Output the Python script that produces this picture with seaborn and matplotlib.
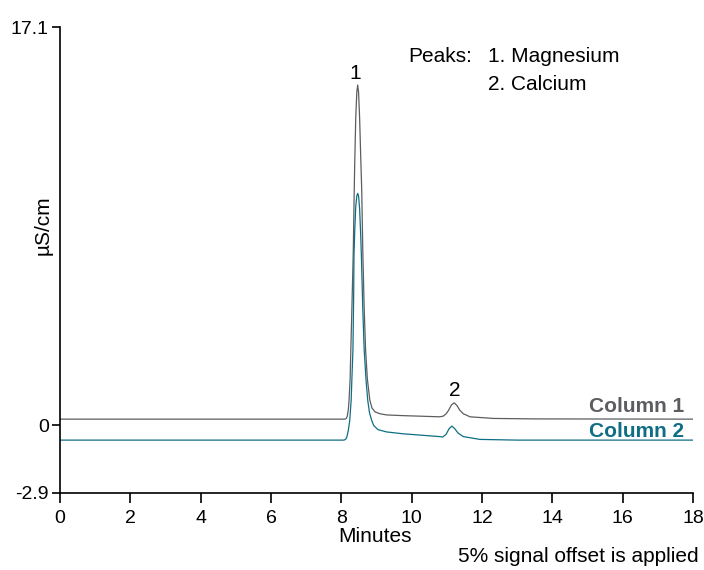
import pandas as pd
import numpy as np
import matplotlib
matplotlib.use('Agg')
import matplotlib.pyplot as plt
import seaborn as sns

# ── Data ──────────────────────────────────────────────────────────────────────
col1_time = [0.0, 8.10, 8.14, 8.17, 8.20, 8.22, 8.25, 8.27, 8.30, 8.34, 8.36,
             8.38, 8.41, 8.44, 8.465, 8.49, 8.52, 8.55, 8.58, 8.61, 8.65, 8.69,
             8.74, 8.81, 8.87, 8.96, 9.10, 9.29, 9.76, 10.80, 10.90, 10.98,
             11.05, 11.13, 11.21, 11.29, 11.37, 11.47, 11.66, 12.32, 13.5, 18.0]
col1_signal = [0.27, 0.27, 0.30, 0.40, 0.70, 1.09, 2.0, 3.24, 5.0, 7.5, 9.5,
               11.2, 13.2, 14.3, 14.61, 14.3, 13.2, 11.6, 10.1, 7.5, 5.0, 3.24,
               2.0, 1.09, 0.75, 0.58, 0.50, 0.45, 0.42, 0.37, 0.40, 0.50,
               0.65, 0.88, 0.97, 0.85, 0.65, 0.50, 0.37, 0.30, 0.28, 0.27]

col2_time = [0.0, 8.08, 8.13, 8.16, 8.20, 8.24, 8.28, 8.30, 8.33, 8.35, 8.36,
             8.38, 8.41, 8.44, 8.465, 8.49, 8.52, 8.55, 8.57, 8.61, 8.65, 8.70,
             8.75, 8.80, 8.86, 8.92, 9.04, 9.29, 9.76, 10.80, 10.88, 10.98,
             11.06, 11.14, 11.22, 11.32, 11.47, 11.94, 13.0, 18.0]
col2_signal = [-0.63, -0.63, -0.58, -0.48, -0.20, 0.23, 1.09, 2.0, 3.24, 5.5, 7.3,
               8.3, 9.4, 9.85, 9.96, 9.85, 9.3, 8.2, 7.3, 5.0, 3.24, 2.0,
               1.09, 0.55, 0.23, 0.0, -0.18, -0.28, -0.36, -0.48, -0.50, -0.38,
               -0.15, -0.03, -0.13, -0.33, -0.48, -0.60, -0.63, -0.63]

x_ticks = [0, 2, 4, 6, 8, 10, 12, 14, 16, 18]
y_ticks = [-2.9, 0, 17.1]
y_tick_labels = ['-2.9', '0', '17.1']

col1_color = '#5b5d60'
col2_color = '#0f6e84'
FS = 15      # annotation text
TFS = 14     # tick labels

df = pd.concat([
    pd.DataFrame({'Minutes': col1_time, 'signal': col1_signal, 'series': 'Column 1'}),
    pd.DataFrame({'Minutes': col2_time, 'signal': col2_signal, 'series': 'Column 2'}),
])

sns.set_style('ticks')
plt.rcParams['font.family'] = ['Liberation Sans', 'DejaVu Sans']
plt.rcParams['text.color'] = 'black'
plt.rcParams['xtick.color'] = 'black'
plt.rcParams['ytick.color'] = 'black'

fig = plt.figure(figsize=(7.04, 5.70), dpi=100)
ax = fig.add_axes([0.0852, 0.1351, 0.8992, 0.8175])

sns.lineplot(data=df, x='Minutes', y='signal', hue='series',
             palette={'Column 1': col1_color, 'Column 2': col2_color},
             linewidth=0.9, legend=False, sort=False, estimator=None, ax=ax)

ax.set_xlim(0, 18)
ax.set_ylim(-2.9, 17.1)
ax.set_xticks(x_ticks)
ax.set_yticks(y_ticks)
ax.set_yticklabels(y_tick_labels)
ax.tick_params(labelsize=TFS, width=1.2, color='black', labelcolor='black')
ax.tick_params(axis='x', length=7, pad=5)
ax.tick_params(axis='y', length=6, pad=2)
for s in ['top', 'right']:
    ax.spines[s].set_visible(False)
for s in ['left', 'bottom']:
    ax.spines[s].set_color('black')
    ax.spines[s].set_linewidth(1.2)

ax.set_xlabel('')
ax.set_ylabel('')
fig.text(375 / 704, 1 - 537 / 570, 'Minutes', fontsize=FS, ha='center', va='center')
fig.text(43 / 704, 1 - 225 / 570, 'µS/cm', fontsize=FS, rotation=90,
         ha='center', va='center')

# peak labels
ax.text(8.40, 14.87, '1', fontsize=FS, ha='center', va='baseline')
ax.text(11.23, 1.26, '2', fontsize=FS, ha='center', va='baseline')

# peaks legend text
fig.text(408 / 704, 1 - 57 / 570, 'Peaks:', fontsize=FS, va='center', ha='left')
fig.text(488 / 704, 1 - 57 / 570, '1. Magnesium', fontsize=FS, va='center', ha='left')
fig.text(488 / 704, 1 - 84 / 570, '2. Calcium', fontsize=FS, va='center', ha='left')

# series labels
ax.text(17.74, 0.58, 'Column 1', fontsize=FS, fontweight='bold', color=col1_color,
        ha='right', va='baseline')
ax.text(17.74, -0.50, 'Column 2', fontsize=FS, fontweight='bold', color=col2_color,
        ha='right', va='baseline')

fig.text(699 / 704, 1 - 557 / 570, '5% signal offset is applied', fontsize=FS,
         ha='right', va='center')

plt.savefig('out.png', dpi=100)
plt.close()
